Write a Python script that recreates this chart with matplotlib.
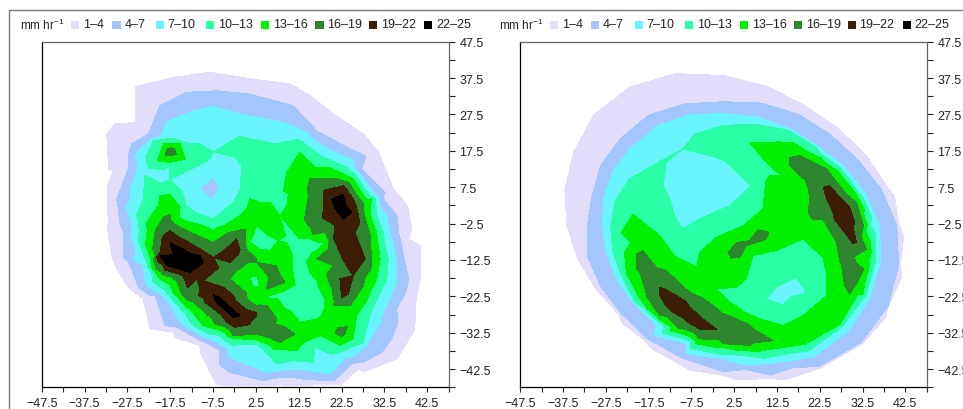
import matplotlib
matplotlib.use('Agg')
import matplotlib.pyplot as plt
from matplotlib.lines import Line2D
from matplotlib.patches import Rectangle
import numpy as np

plt.rcParams['font.family'] = ['Liberation Sans', 'DejaVu Sans']
plt.rcParams['mathtext.fontset'] = 'custom'
plt.rcParams['mathtext.rm'] = 'Liberation Sans'
plt.rcParams['mathtext.default'] = 'rm'

# Rain rate samples as (x, y), grouped by the rate there
corners = [(-47.5, 47.5), (47.5, 47.5), (-47.5, -47.5), (47.5, -47.5), (0, 47.5), (-47.5, 0), (47.5, 0),
           (-47.5, 25), (47.5, 25), (-47.5, -25), (47.5, -25), (-25, 47.5), (25, 47.5), (-30, -47.5), (35, -47.5)]

left_0 = [(-8.2, 41), (-18.3, 39), (-27.2, 37), (-27.5, 27), (-31.5, 26.5), (-34, 22), (-33.5, 12), (-33.8, 2),
          (-33.5, -2.5), (-33, -11.5), (-32, -16), (-29, -22), (-25.5, -25), (-24, -33), (-17, -34.5), (-12, -38),
          (-10, -44), (-8, -47.5), (8, -47.5), (24, -47.5), (28, -44), (36.5, -41.5), (41, -31.5), (41.5, -23.5),
          (43, -17), (43, -8), (40, -5.5), (40, 2), (39, 4), (36.5, 7.5), (33, 18), (29, 23.5), (22, 29.5), (16, 34.5),
          (11, 38), (2, 39)]
left_1 = [(-8.2, 39.1), (-18.3, 37.2), (-25.7, 35.2), (-25.7, 28), (-25.7, 25.3), (-30.4, 24.9), (-32.3, 22.1),
          (-31.9, 12.5), (-30.8, 12), (-32.2, 7.9), (-32.2, 2), (-31.9, -2.2), (-31.2, -11.3), (-30, -15),
          (-26.9, -20.5), (-23.8, -23.2), (-22.2, -31.5), (-16.4, -32.4), (-10.6, -36), (-8.2, -43.4), (-6.7, -46.6),
          (8, -46.8), (22.5, -46.6), (26.4, -42.5), (35.4, -39.7), (39.6, -30.6), (39.9, -23.2), (41, -16.8),
          (41, -8.6), (38.1, -6.7), (38.1, 1.5), (37.3, 3.3), (34.6, 7), (31.1, 17.1), (27.6, 22.1), (20.6, 27.6),
          (15.1, 32.7), (10.5, 35.9), (1.9, 37.2)]
left_4 = [(-6.7, 34), (-13.7, 33.6), (-19.9, 29.9), (-22.6, 22.1), (-26.5, 19.4), (-27.3, 16.2), (-27.3, 12.5),
          (-30, 4.2), (-29.6, 1.5), (-28.4, -4.9), (-26.5, -15), (-24.9, -20), (-21, -22.3), (-15.2, -31.5),
          (-5.9, -37.4), (-3.6, -43.4), (4.2, -45.7), (20.6, -45.7), (27.6, -40.6), (34.2, -34.2), (35.4, -26),
          (37.1, -12.2), (35.4, -0.3), (32.2, 4.3), (27.2, 12.5), (24.5, 18), (16.7, 23), (11.2, 29.9), (1.1, 33.1)]
left_7 = [(-7.4, 29.7), (-12.9, 28.1), (-21.8, 20.7), (-25, 12.5), (-27.7, 2), (-26.5, -3), (-23.8, -14),
          (-20.7, -21.4), (-15.2, -29.6), (-6.7, -35.1), (-3.6, -39.3), (2.7, -37), (5, -43.4), (19.8, -43.8),
          (28.4, -36), (31.5, -29.6), (35.4, -18.6), (33.8, -4.9), (30.7, 5.2), (25.2, 15.2), (14.4, 22.6),
          (8.9, 25.3), (-1.2, 27.6), (-10.5, 7), (-7.4, 10.2), (-6, 7.5), (-7.8, 3.8)]
left_10 = [(-21.4, 20.3), (-16.8, 21), (-12.9, 19.4), (-10.5, 19.4), (-7.4, 17.2), (-12.5, 12.5), (-17.6, 13.4),
           (-22.6, 12.7), (-23.4, 10.7), (-17.6, 9.6), (-14.8, 6.5), (-14.8, 2.4), (-13.7, 2.4), (-7.4, -1.2),
           (-2.8, 3.3), (-1.2, 7), (-1.4, 21.5), (7.3, 19.4), (12, 20.7), (17.5, 16.2), (23.7, 13), (29.1, 5.2),
           (30.7, -0.3), (33.4, -12.2), (32.2, -19.6), (29.1, -27.8), (27.6, -35.1), (22.1, -37.9), (16.3, -36.5),
           (15.9, -40.6), (7.3, -41.1), (4.2, -37), (-2.8, -36), (-5.9, -33.3), (-13.7, -27.8), (-19.1, -20.5),
           (-23, -13.2), (-24.9, -2.6), (-23.8, 4.3)]
left_13 = [(-19.1, 19.4), (-15.2, 19.4), (-14, 15.2), (-17.6, 14.3), (-20.5, 14.8),
           (-19.9, 5.2), (-17.6, 5.6), (-15.2, 2), (-7.4, -4.4), (-1.2, -0.3), (1.1, 4.3), (5.8, 3.3), (8.1, -0.3),
           (9.7, 2.4), (9.7, 11.6), (12.8, 17.1), (25.2, 9.8), (29.5, 4.3), (31.5, -12.2), (30.7, -17.7), (26, -27.8),
           (25.2, -34.2), (22.1, -36), (17.5, -33.3), (12, -37.4), (6.6, -37), (-2.8, -34.2), (-9.8, -30.6),
           (-19.9, -17.7), (-23, -2.2), (-20.3, 2.4),
           (2.7, -3.1), (1.1, -7.7), (3.5, -9.5), (9.7, -7.7), (11.2, -15.9), (4.2, -22.8), (12.8, -29.6), (16.7, -28.7),
           (17.8, -27.8), (18.6, -23.2), (15.1, -15.9), (14.3, -13.2), (18.6, -7.7), (15.1, -6.7), (7.7, -7.2),
           (1.1, -17.3), (2.7, -16.8), (3.1, -20)]
left_16 = [(-17.6, 0.1), (-21, -4.4), (-20.7, -15), (-12.1, -24.1), (-2.8, -33.3), (2.7, -32.9), (8.1, -35.1),
           (11.6, -32.9), (2.7, -25), (-3.6, -17.7), (2.7, -13.2), (5, -20.5), (9.3, -18.7), (7.3, -14.1), (2.7, -12.2),
           (0, -7.7), (0, -4), (-7.4, -7.7), (-13.7, -4.4),
           (15.1, 9.8), (21.4, 9.8), (27.6, 3), (29.1, -4.9), (29.5, -12.2), (27.6, -19.6), (24.5, -25), (20.6, -25),
           (20.6, -14), (16.7, -12.2), (19.4, -9.5), (18.6, -4.9), (15.9, -5.4), (7.3, -3.5), (5.4, -0.8), (14.3, 2),
           (14.7, 4.3)]
left_19 = [(-17.6, -4.4), (-19.9, -10.4), (-19.1, -14), (-11.3, -17.7), (-10.5, -20.5), (-4.3, -29.6), (-2.4, -31),
           (2.7, -27.8), (7.7, -32.9), (2.7, -26.9), (-9.8, -18.2), (-3.6, -13.2), (-1.2, -9.5), (-2, -6.7),
           (-7.4, -11.8), (-10.5, -9.5),
           (18.2, 6.6), (22.9, 7.9), (26, 2), (26.8, -2.2), (25.6, -4.9), (28, -12.2), (25.2, -16.8), (24.1, -21.9),
           (22.5, -22.8), (22.1, -17.7), (20.6, -6.7), (21, -3), (18.2, 3.4)]
left_22 = [(-17.6, -7.7), (-19.9, -11.3), (-18.3, -14), (-12.9, -15.9), (-9.8, -13.2), (-10.5, -11.3),
           (-9.8, -20.5), (-2.8, -28.3), (-1.2, -27.8), (-7.4, -21.9),
           (20.2, 4.2), (22.9, 5.6), (24.9, 0.6), (22.9, -1.2), (21, 1.5)]
# points inside the bands, they keep the flat stretches at the right rate
left_inside = [(-8, 7, 5),
               (-10.5, 24.4, 8.5), (-2.8, 24.4, 8.5), (5, 22.6, 8.5), (-6.6, 13.4, 8.5), (-3.6, 4.3, 8.5), (-11.3, 8.8, 8.5),
               (-9, 1.5, 8.5), (-18.3, 11.1, 8.5), (-24.6, 16.2, 8.5), (10.5, -41.6, 8.5), (19, -39.7, 8.5),
               (11.2, -23.2, 11.5), (15.1, -22.3, 11.5), (4.2, -6.7, 11.5), (12.8, -9.5, 11.5), (17.5, -26, 11.5),
               (12.8, -14, 11.5), (12.8, -19.6, 11.5), (8.9, -22.3, 11.5), (14.3, -25, 11.5), (15.9, -20.5, 11.5),
               (15.1, -9.5, 11.5), (16.7, -8.6, 11.5), (5, -7.9, 11.5), (10.5, -7, 11.5),
               (2.2, -18.3, 11.5), (5, 13.4, 11.5), (1.9, 18, 11.5), (12.8, 18.9, 11.5), (1.1, 7, 11.5), (-20.7, 6, 11.5),
               (-10.5, 16.2, 11.5), (-7.4, -2.6, 11.5), (-1.2, 1.5, 11.5), (-14.4, -0.3, 11.5), (7.3, 3.4, 11.5), (5, 5.2, 11.5),
               (1.9, 1.5, 14.5), (12.8, 7.9, 14.5), (12.8, -34.2, 14.5), (20.6, -29.7, 14.5), (22.9, -26, 14.5),
               (17.5, -15.9, 14.5), (1.9, -23.2, 14.5), (9.7, -29.6, 14.5), (3.5, -11.3, 14.5), (0.4, -15.4, 14.5),
               (4.2, -19.6, 14.5), (1.5, -20.9, 14.5), (24, -33, 14.5),
               (-18.3, -2.2, 17.5), (-13.7, -22.3, 17.5), (-6.6, -27.8, 17.5), (-4.3, -15.4, 17.5), (6.6, -33.3, 17.5),
               (4.2, -30.6, 17.5), (0.4, -11.3, 17.5), (6.6, -16.8, 17.5), (16.7, -2.2, 17.5), (22.1, -24.1, 17.5),
               (22.7, -32.4, 17.5), (-17.5, 17.4, 18),
               (-3.6, -10.9, 20.5), (23.7, -11.3, 20.5), (22.9, -4.9, 20.5),
               (-14.5, -11.5, 24), (-6, -24, 23), (22.4, 2.4, 23.5)]

# Right panel: outer rings read along bearings from (0, -3), radius where each rate is reached
ring_bearing = [0, 15, 30, 45, 60, 75, 90, 105, 120, 135, 150, 165, 180, 195, 210, 225, 240, 255, 270, 285, 300, 315, 330, 345]
ring_r_0 = [42.5, 41.2, 40, 39.3, 39.5, 41.2, 42.8, 44.8, 45.5, 44.5, 42, 40, 38.2, 36.9, 36.2, 36.2, 38.2, 41, 42.8, 45.2, 46.9, 47.6, 46, 44.3]
ring_r_1 = [41, 39.8, 38.5, 37.8, 38, 39.6, 41.2, 43.2, 43.9, 42.9, 40.4, 38.4, 36.6, 35.3, 34.6, 34.6, 36.6, 39.5, 41.2, 43.6, 45.3, 46, 44.5, 42.8]
ring_r_4 = [40.5, 38.2, 36.2, 35.3, 35.2, 34.8, 34, 34.6, 35, 33.9, 33.1, 31.8, 31.8, 32.9, 33.2, 34, 35.8, 37.7, 40.2, 42.6, 44.7, 45.5, 44.4, 42.4]
ring_r_7 = [36.5, 34.3, 32.5, 31, 30.8, 30.8, 30.9, 31.4, 31.4, 30.4, 29.8, 29, 28.3, 28.3, 29, 30, 31.5, 33.6, 36.7, 39.4, 41.8, 41.2, 39.6, 38]
ring_r_10 = [34.3, 32.9, 31.6, 30.5, 30.2, 28.8, 27.5, 26, None, None, 25.4, 26.2, 26.4, 26.8, 27.6, 29.5, 30.6, 32.6, 35.6, 37.8, 39.8, 39.3, 38.4, 36.8]
ring_r_13 = [33.6, 32.3, 30.6, 28.3, 26.5, 23.6, None, None, None, None, None, None, None, None, 26.2, 28, 30, 31.5, 33.6, 35.6, 37.8, 38.5, 37.7, 35.4]

right_10 = [(-9.5, 18), (-3.2, 16.2), (6.5, 7.9), (1.4, 2.4), (-5.6, -1.2), (-9.5, -4), (-11.4, -0.3), (-12.6, 4.3),
            (-13.4, 14.3), (-14.9, 14.6),
            (10, -23.2), (12.4, -20), (17, -17.3), (19.8, -17.3), (19.4, -21.4), (13.9, -24.9)]
right_13 = [(-21.2, 0.1), (-14.9, -5.8), (-6.3, -14.5), (-23.9, -4.9),
            (-5.6, -10.4), (-1.7, -6.3), (4.6, -3.1), (9.2, 1.5), (15.9, 2), (15.9, 4.3), (13.9, 10.7),
            (18.6, -4.9), (24.1, -15.9), (24.1, -22.3), (18.6, -27.8), (8.5, -28.7), (-1.7, -20.5), (5.3, -17.7), (6.9, -11.3),
            (12.4, -9.9), (18.6, -6.7)]
right_16 = [(-20.4, -10.9), (-18.8, -10), (-13.4, -15.4), (-7.9, -21.4), (2.2, -28.3), (7, -31.5), (11.6, -34.7), (6.1, -36),
            (0, -35.5), (-5.6, -34.2), (-10.5, -31.3), (-14.9, -27.8), (-18, -21.8), (-20.4, -15),
            (1.1, -10.4), (3, -7.7), (5.3, -8.6), (3.8, -11.8), (1.8, -12),
            (6.1, -7.2), (8.1, -4.2), (10.6, -4.9), (10, -6.7), (7.7, -7.7),
            (15.5, 15.7), (17.8, 16.2), (24.1, 12.5), (31.1, 3.3), (32.7, -3), (33.4, -9.5), (32.8, -15), (29.5, -21.8),
            (28.3, -19.6), (27.5, -13.5), (26.4, -7.6), (23.3, -1.5), (20.2, 4.3), (15.5, 13.4)]
right_19 = [(-14.9, -20), (-13.7, -20.5), (-1.7, -31.5), (-5.6, -31.5), (-11.8, -26.9), (-14.9, -22.3), (-7.9, -25.5), (-4.8, -28.7),
            (23.3, 7.5), (24.8, 7.9), (29.5, 2), (31.1, -7.6), (30.3, -8.1), (24.1, 4.3), (25.6, 0.6), (28.3, -4.9), (30.7, -2.2), (27.6, 4.2)]
right_inside = [(-9.5, 7.9, 8.5), (-1.7, 9.8, 8.5), (-9.5, 0.6, 8.5), (-17.2, 19.8, 8.5), (-13.4, 22.6, 8.5), (13.9, -21.4, 9),
                (13.9, -12.2, 11.5), (21.7, -14, 11.5), (3, -23.2, 11.5), (17.8, -25, 11.5), (6.1, -26, 11.5),
                (2.2, 19.8, 11.5), (-1.7, 20.7, 11.5), (10, 11.6, 11.5), (6.1, 4.2, 11.5), (-1.7, -2.2, 11.5), (-17.2, 3.4, 11.5),
                (-21.2, 2.4, 11.5), (-18.8, 7.9, 11.5), (-15.7, 4.3, 11.5), (-14.1, -1.2, 11.5), (-9.5, -9.5, 11.5),
                (10, 17.1, 14.5), (11.6, 9.8, 14.5), (17.8, 0.6, 14.5), (13.9, -2.2, 14.5), (25.6, -14, 14.5), (26.4, -23.2, 14.5),
                (17.8, -32.4, 14.5), (-1.7, -14, 14.5), (-19.6, -6.7, 14.5), (-13.4, -13.2, 14.5), (3, -16.8, 14.5),
                (-3.2, -18.6, 14.5), (13.9, -33.3, 14.5),
                (-18, -15.9, 17.5), (-1.7, -33.3, 17.5), (6.1, -34.2, 17.5), (29.5, -14, 17.5), (21.7, 8.8, 17.5), (21.7, 0.6, 17.5),
                (28.7, -11.3, 17.5), (30.7, -16.8, 17.5), (-9.5, -30.6, 17.5), (-17.2, -22.3, 17.5), (-1.7, -28.3, 17.5), (4.6, -31, 17.5),
                (3, -9.8, 16.5), (8.5, -5.8, 16.5),
                (-9.5, -25.5, 21), (-6.3, -28.7, 21), (-12.6, -23.2, 21), (26.4, 2.4, 21), (27.6, -1.2, 21), (28.7, -4, 21)]

levels = [1, 4, 7, 10, 13, 16, 19, 22, 25]
level_labels = ['1–4', '4–7', '7–10', '10–13', '13–16', '16–19', '19–22', '22–25']
level_colors = ['#E1DDFA', '#A4C6FF', '#69F5FF', '#2BFFA6', '#00F000', '#2E862E', '#3E1D05', '#000000']

tick_values = [-47.5, -42.5, -37.5, -32.5, -27.5, -22.5, -17.5, -12.5, -7.5, -2.5,
               2.5, 7.5, 12.5, 17.5, 22.5, 27.5, 32.5, 37.5, 42.5, 47.5]
x_tick_labels = ['−47.5', '−37.5', '−27.5', '−17.5', '−7.5', '2.5', '12.5', '22.5', '32.5', '42.5']
y_tick_labels = ['−42.5', '−32.5', '−22.5', '−12.5', '−2.5', '7.5', '17.5', '27.5', '37.5', '47.5']

W, H = 963, 410
fig = plt.figure(figsize=(W / 100, H / 100), dpi=100)


def px_box(x0, y0, x1, y1):
    # pixel box from the top left corner -> figure fraction
    return [x0 / W, 1 - y1 / H, (x1 - x0) / W, (y1 - y0) / H]


def ring_points(radii):
    # bearing + radius -> (x, y), skip the bearings where the ring is not there
    pts = []
    for b, r in zip(ring_bearing, radii):
        if r is not None:
            pts.append((r * np.cos(np.radians(b)), -3 + r * np.sin(np.radians(b))))
    return pts


def draw_panel(groups, inside, x0, x1):
    xs, ys, rain = [], [], []
    for value, points in groups:
        for px, py in points:
            xs.append(px)
            ys.append(py)
            rain.append(value)
    for px, py, value in inside:
        xs.append(px)
        ys.append(py)
        rain.append(value)

    ax = fig.add_axes(px_box(x0, 42.7, x1, 388.3))
    ax.tricontourf(xs, ys, rain, levels=levels, colors=level_colors)
    ax.set_xlim(-47.5, 47.5)
    ax.set_ylim(-47.5, 47.5)

    ax.set_xticks(tick_values)
    ax.set_xticklabels([x_tick_labels[i // 2] if i % 2 == 0 else '' for i in range(20)])
    ax.set_yticks(tick_values)
    ax.set_yticklabels(['' if i % 2 == 0 else y_tick_labels[i // 2] for i in range(20)])
    ax.yaxis.tick_right()
    ax.tick_params(axis='x', length=3.5, width=0.8, pad=3.5, labelsize=9, colors='#222222')
    ax.tick_params(axis='y', length=4.2, width=0.8, pad=3.5, labelsize=9, colors='#222222')

    for side in ['left', 'bottom', 'top', 'right']:
        ax.spines[side].set_linewidth(0.9)
    ax.spines['top'].set_color('#666666')
    ax.spines['right'].set_color('#666666')
    return ax


def draw_legend(dx):
    patch_x = [71, 112.3, 155.7, 205.7, 260.7, 315.3, 368.7, 423.7]
    text_x = [83, 124.3, 167.7, 218.3, 273, 327.3, 380.7, 436]
    fig.text((20 + dx) / W, 1 - 25.5 / H, 'mm hr$^{-1}$', fontsize=8.5, va='center', color='#222222')
    for px, tx, col, lab in zip(patch_x, text_x, level_colors, level_labels):
        fig.add_artist(Rectangle(((px + dx) / W, 1 - 29.5 / H), 8.2 / W, 7.5 / H,
                                 transform=fig.transFigure, facecolor=col, edgecolor='none'))
        fig.text((tx + dx) / W, 1 - 25.5 / H, lab, fontsize=9, va='center', color='#222222')


left_groups = [(0, corners + left_0), (1, left_1), (4, left_4), (7, left_7), (10, left_10),
               (13, left_13), (16, left_16), (19, left_19), (22, left_22)]
right_groups = [(0, corners + ring_points(ring_r_0)), (1, ring_points(ring_r_1)), (4, ring_points(ring_r_4)),
                (7, ring_points(ring_r_7)), (10, ring_points(ring_r_10) + right_10),
                (13, ring_points(ring_r_13) + right_13), (16, right_16), (19, right_19)]

draw_panel(left_groups, left_inside, 41.7, 448.7)
draw_panel(right_groups, right_inside, 520.3, 926.7)
draw_legend(0)
draw_legend(478.8)

# grey outer frame, cut by the page on the right and at the bottom
fig.add_artist(Line2D([8.7 / W, 8.7 / W, 1], [0, 1 - 11 / H, 1 - 11 / H],
                      transform=fig.transFigure, color='#777777', lw=1.0))

fig.savefig('out.png', dpi=100)
